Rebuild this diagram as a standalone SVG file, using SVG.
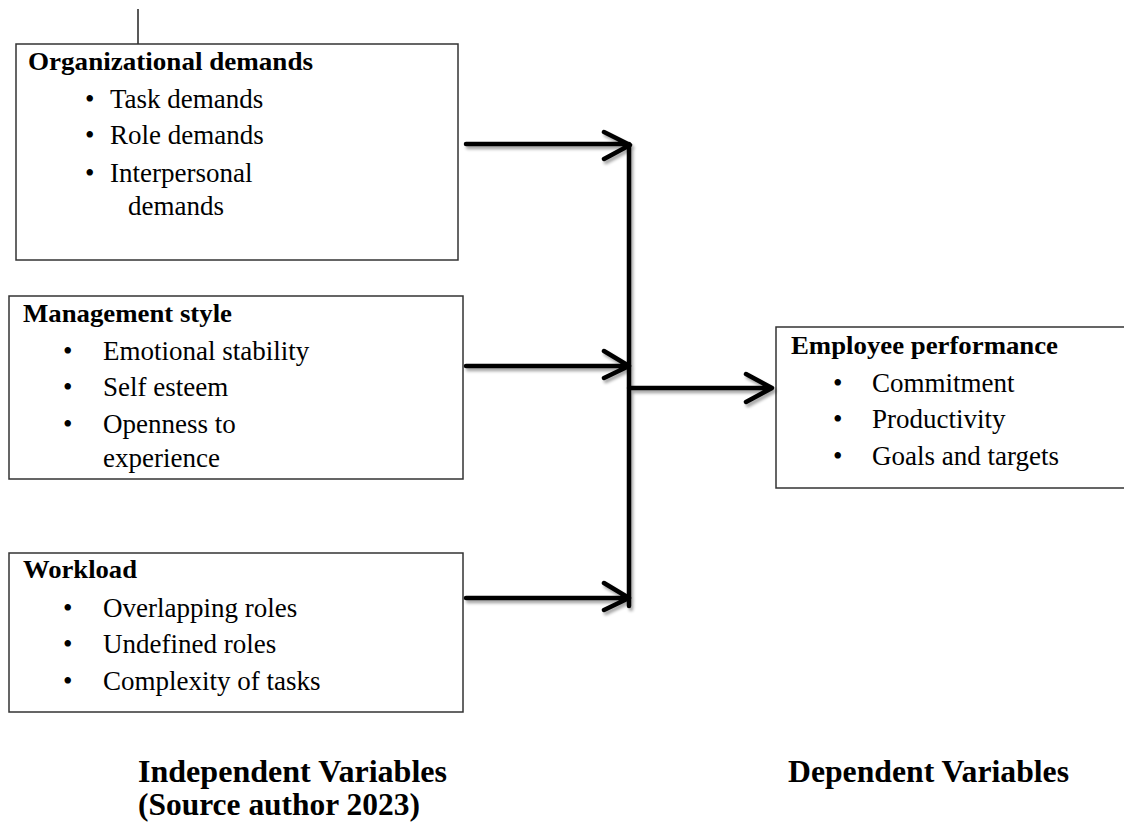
<svg xmlns="http://www.w3.org/2000/svg" width="1124" height="828" viewBox="0 0 1124 828">
<style>
.box{fill:#fff;stroke:#333;stroke-width:1.5}
.t{font-family:"Liberation Serif","Times New Roman",serif;font-size:27px;fill:#000}
.b{font-weight:bold;font-size:26px}
.cap{font-family:"Liberation Serif","Times New Roman",serif;font-size:31px;font-weight:bold;fill:#000}
.conn{fill:none;stroke:#000;stroke-width:4.5;stroke-linecap:round;stroke-linejoin:round}
</style>
<defs>
<filter id="sh" x="-20%" y="-20%" width="140%" height="140%">
<feDropShadow dx="2" dy="3" stdDeviation="1.6" flood-color="#000" flood-opacity="0.35"/>
</filter>
</defs>
<rect width="1124" height="828" fill="#fff"/>
<line x1="138" y1="9" x2="138" y2="44" stroke="#222" stroke-width="1.5"/>

<g id="org">
<rect class="box" x="16" y="44" width="442" height="216"/>
<text class="t b" x="28" y="70" textLength="285" lengthAdjust="spacingAndGlyphs">Organizational demands</text>
<text class="t" x="85" y="108">•</text><text class="t" x="110" y="108">Task demands</text>
<text class="t" x="85" y="144">•</text><text class="t" x="110" y="144">Role demands</text>
<text class="t" x="85" y="182">•</text><text class="t" x="110" y="182">Interpersonal</text>
<text class="t" x="128" y="215">demands</text>
</g>

<g id="mgmt">
<rect class="box" x="9" y="296" width="454" height="183"/>
<text class="t b" x="23" y="322" textLength="209" lengthAdjust="spacingAndGlyphs">Management style</text>
<text class="t" x="63" y="360">•</text><text class="t" x="103" y="360">Emotional stability</text>
<text class="t" x="63" y="396">•</text><text class="t" x="103" y="396">Self esteem</text>
<text class="t" x="63" y="433">•</text><text class="t" x="103" y="433">Openness to</text>
<text class="t" x="103" y="467">experience</text>
</g>

<g id="workload">
<rect class="box" x="9" y="553" width="454" height="159"/>
<text class="t b" x="23" y="578" textLength="114" lengthAdjust="spacingAndGlyphs">Workload</text>
<text class="t" x="63" y="617">•</text><text class="t" x="103" y="617">Overlapping roles</text>
<text class="t" x="63" y="653">•</text><text class="t" x="103" y="653">Undefined roles</text>
<text class="t" x="63" y="690">•</text><text class="t" x="103" y="690">Complexity of tasks</text>
</g>

<g id="perf">
<rect class="box" x="776" y="327" width="360" height="161"/>
<text class="t b" x="791" y="354" textLength="267" lengthAdjust="spacingAndGlyphs">Employee performance</text>
<text class="t" x="833" y="392">•</text><text class="t" x="872" y="392">Commitment</text>
<text class="t" x="833" y="428">•</text><text class="t" x="872" y="428">Productivity</text>
<text class="t" x="833" y="465">•</text><text class="t" x="872" y="465">Goals and targets</text>
</g>

<g id="connectors" filter="url(#sh)">
<path class="conn" d="M466 144 H629 M604 132 L630 145 L604 159"/>
<path class="conn" d="M466 366 H628 M604 351 L629 366 L604 378"/>
<path class="conn" d="M466 598 H628 M604 583 L629 598 L604 610"/>
<path class="conn" d="M629 145 V606"/>
<path class="conn" d="M629 388 H771 M746 374 L772 388 L746 402"/>
</g>

<g id="captions">
<text class="cap" x="138" y="782" textLength="309" lengthAdjust="spacingAndGlyphs">Independent Variables</text>
<text class="cap" x="138" y="815" textLength="282" lengthAdjust="spacingAndGlyphs">(Source author 2023)</text>
<text class="cap" x="788" y="782" textLength="281" lengthAdjust="spacingAndGlyphs">Dependent Variables</text>
</g>
</svg>
